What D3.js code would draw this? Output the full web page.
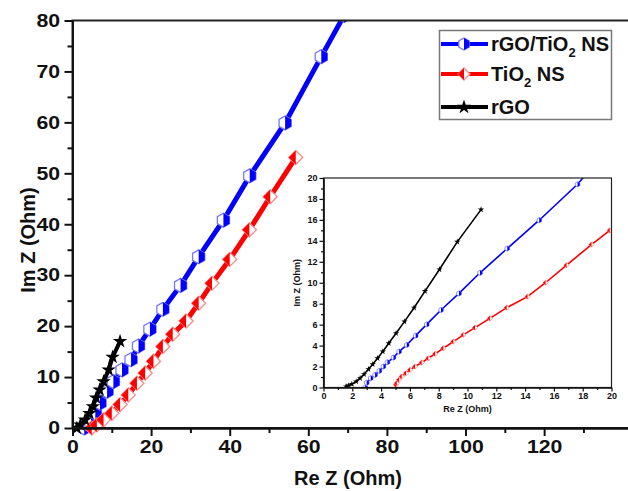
<!DOCTYPE html>
<html>
<head>
<meta charset="utf-8">
<script src="https://cdn.jsdelivr.net/npm/d3@7"></script>
<style>
body { margin: 0; background: #fff; }
text { font-family: "Liberation Sans", Arial, sans-serif; font-weight: bold; fill: #111; }
</style>
</head>
<body>
<svg></svg>
<script>
// main plot data (Re Z, Im Z in Ohm)
var blueRe = [3.0, 4.4, 4.7, 5.8, 7.0, 8.8, 10.4, 12.6, 14.9, 16.8, 19.7, 23.0, 27.5, 32.1, 38.4, 45.1, 54.1, 63.3, 69.1];
var blueIm = [0, 0.5, 1.0, 2.9, 4.9, 7.2, 9.1, 11.4, 13.4, 16.1, 19.4, 23.3, 28.0, 33.6, 40.8, 49.5, 59.9, 72.9, 81];
var redRe = [4.9, 6.2, 7.9, 10.0, 12.1, 14.2, 16.4, 18.5, 20.6, 23.0, 25.5, 28.9, 32.1, 35.5, 40.0, 45.0, 50.3, 56.8];
var redIm = [0, 0.6, 1.6, 2.9, 4.6, 6.5, 8.8, 10.8, 13.1, 16.0, 18.4, 21.0, 24.5, 28.4, 33.1, 38.9, 45.4, 53.1];
var blackRe = [1.1, 2.0, 3.2, 4.3, 5.2, 6.0, 6.9, 7.9, 9.2, 10.2, 12.1];
var blackIm = [0, 0.6, 1.6, 2.9, 4.2, 5.9, 7.5, 9.1, 11.4, 13.9, 17.0];

// inset data
var inBlueRe = [2.9, 3.0, 3.28, 3.58, 3.88, 4.16, 4.44, 4.86, 5.25, 5.78, 6.40, 7.17, 8.16, 9.41, 10.87, 12.76, 14.98, 17.64, 18.2];
var inBlueIm = [0, 0.45, 0.89, 1.2, 1.59, 2.0, 2.41, 2.86, 3.43, 4.06, 4.95, 6.03, 7.40, 8.98, 10.95, 13.27, 15.97, 19.4, 20.3];
var inRedRe = [5.04, 5.09, 5.25, 5.43, 5.73, 6.01, 6.36, 6.82, 7.28, 7.75, 8.32, 9.02, 9.71, 10.52, 11.56, 12.72, 14.17, 15.42, 16.88, 18.61, 19.88, 20.3];
var inRedIm = [0.25, 0.41, 0.73, 1.05, 1.37, 1.68, 2.0, 2.38, 2.79, 3.21, 3.75, 4.38, 5.02, 5.71, 6.6, 7.62, 8.67, 10.0, 11.68, 13.65, 15.0, 15.3];
var inBlackRe = [1.57, 1.73, 1.97, 2.27, 2.54, 2.82, 3.12, 3.42, 3.75, 4.12, 4.53, 5.04, 5.62, 6.29, 7.05, 8.05, 9.29, 10.94];
var inBlackIm = [0.1, 0.19, 0.32, 0.57, 0.89, 1.27, 1.75, 2.22, 2.79, 3.43, 4.22, 5.17, 6.29, 7.62, 9.2, 11.27, 13.9, 16.98];

var mainXTicks = [0, 20, 40, 60, 80, 100, 120];
var mainYTicks = [0, 10, 20, 30, 40, 50, 60, 70, 80];
var insetTicks = [0, 2, 4, 6, 8, 10, 12, 14, 16, 18, 20];
var legendNames = ["rGO/TiO2 NS", "TiO2 NS", "rGO"];

var svgWidth = 628;
var svgHeight = 491;
var svg = d3.select("svg").attr("width", svgWidth).attr("height", svgHeight);

var x = d3.scaleLinear().domain([0, 142]).range([72.5, 630.6]);
var y = d3.scaleLinear().domain([0, 80]).range([428, 20.5]);
var ix = d3.scaleLinear().domain([0, 20]).range([323.5, 611.5]);
var iy = d3.scaleLinear().domain([0, 20]).range([387.5, 178]);

var colors = { blue: "#0000ff", red: "#ff0000", black: "#000000" };
var light = { blue: "#7777ff", red: "#ff8888", black: "#000000" };

// half filled markers
function marker(g, kind, r) {
  var c = colors[kind], lc = light[kind];
  if (kind == "blue") {
    var h = r * Math.cos(Math.PI / 6);
    g.append("path").attr("d", "M0," + (-r) + "L" + h + "," + (-r / 2) + "L" + h + "," + (r / 2) + "L0," + r + "L" + (-h) + "," + (r / 2) + "L" + (-h) + "," + (-r / 2) + "Z")
      .attr("fill", "#fff").attr("stroke", lc).attr("stroke-width", r > 4 ? 1.3 : 0.8);
    g.append("path").attr("d", "M0," + (-r) + "L" + h + "," + (-r / 2) + "L" + h + "," + (r / 2) + "L0," + r + "Z").attr("fill", c);
  } else if (kind == "red") {
    g.append("path").attr("d", "M0," + (-r) + "L" + r + ",0L0," + r + "L" + (-r) + ",0Z")
      .attr("fill", "#fff").attr("stroke", lc).attr("stroke-width", r > 4 ? 1.3 : 0.8);
    g.append("path").attr("d", "M0," + (-r) + "L" + (-r) + ",0L0," + r + "Z").attr("fill", c);
  } else {
    g.append("path").attr("d", d3.symbol(d3.symbolStar, r * r * 2.6)()).attr("fill", c);
  }
}

function drawSeries(layer, re, im, sx, sy, kind, lw, r) {
  var pts = d3.zip(re, im);
  var line = d3.line().x(function(d) { return sx(d[0]); }).y(function(d) { return sy(d[1]); });
  layer.append("path").datum(pts).attr("d", line)
    .attr("fill", "none").attr("stroke", colors[kind]).attr("stroke-width", lw);
  layer.selectAll(null).data(pts).enter().append("g")
    .attr("transform", function(d) { return "translate(" + sx(d[0]) + "," + sy(d[1]) + ")"; })
    .each(function() { marker(d3.select(this), kind, r); });
}

function styleAxis(g, w) {
  g.select(".domain").attr("stroke", "#111").attr("stroke-width", w);
  g.selectAll(".tick line").attr("stroke", "#111").attr("stroke-width", w);
}

// main plot
svg.append("clipPath").attr("id", "mainClip").append("rect")
  .attr("x", 72).attr("y", 20.5).attr("width", 560).attr("height", 420);

var main = svg.append("g").attr("clip-path", "url(#mainClip)");
drawSeries(main, blueRe, blueIm, x, y, "blue", 5, 7);
drawSeries(main, redRe, redIm, x, y, "red", 5, 7);
drawSeries(main, blackRe, blackIm, x, y, "black", 4, 5);

svg.append("rect").attr("x", x(0)).attr("y", y(80)).attr("width", x(142) - x(0)).attr("height", y(0) - y(80))
  .attr("fill", "none").attr("stroke", "#222").attr("stroke-width", 2);

var gx = svg.append("g").attr("transform", "translate(0," + y(0) + ")")
  .call(d3.axisBottom(x).tickValues(mainXTicks).tickSize(8).tickPadding(3).tickSizeOuter(0));
gx.selectAll("text").attr("font-size", 18).attr("dy", "0.8em").attr("transform", "scale(1.18,1)");
styleAxis(gx, 2);
var gxm = svg.append("g").attr("transform", "translate(0," + y(0) + ")")
  .call(d3.axisBottom(x).tickValues(d3.range(10, 140, 20)).tickSize(5).tickFormat("").tickSizeOuter(0));
styleAxis(gxm, 2);

var gy = svg.append("g").attr("transform", "translate(" + x(0) + ",0)")
  .call(d3.axisLeft(y).tickValues(mainYTicks).tickSize(8).tickPadding(2.5).tickSizeOuter(0));
gy.selectAll("text").attr("font-size", 18).attr("transform", "scale(1.18,1)");
styleAxis(gy, 2);
var gym = svg.append("g").attr("transform", "translate(" + x(0) + ",0)")
  .call(d3.axisLeft(y).tickValues(d3.range(5, 80, 10)).tickSize(5).tickFormat("").tickSizeOuter(0));
styleAxis(gym, 2);

svg.append("text").attr("x", 348).attr("y", 485).attr("text-anchor", "middle")
  .attr("font-size", 20).text("Re Z (Ohm)");
svg.append("text").attr("transform", "translate(35,240) rotate(-90)").attr("text-anchor", "middle")
  .attr("font-size", 20).text("Im Z (Ohm)");

// legend
var leg = svg.append("g");
leg.append("rect").attr("x", 439.5).attr("y", 30.5).attr("width", 172).attr("height", 89)
  .attr("fill", "#fff").attr("stroke", "#777").attr("stroke-width", 1.5);
var legKinds = ["blue", "red", "black"];
var legY = [44, 74, 107];
legendNames.forEach(function(name, i) {
  var k = legKinds[i];
  leg.append("line").attr("x1", 441).attr("x2", 488).attr("y1", legY[i]).attr("y2", legY[i])
    .attr("stroke", colors[k]).attr("stroke-width", 4);
  marker(leg.append("g").attr("transform", "translate(464," + legY[i] + ")"), k, k == "black" ? 5 : 6);
  var t = leg.append("text").attr("x", 491).attr("y", legY[i] + 7).attr("font-size", 20);
  var parts = name.split("2");
  if (parts.length > 1) {
    t.append("tspan").text(parts[0]);
    t.append("tspan").attr("font-size", 13).attr("dy", 6).text("2");
    t.append("tspan").attr("dy", -6).text(parts[1]);
  } else {
    t.text(name);
  }
});

// inset
var inset = svg.append("g");
inset.append("rect").attr("x", ix(0)).attr("y", iy(20)).attr("width", ix(20) - ix(0)).attr("height", iy(0) - iy(20))
  .attr("fill", "#fff");
inset.append("clipPath").attr("id", "insetClip").append("rect")
  .attr("x", ix(0)).attr("y", iy(20)).attr("width", ix(20) - ix(0)).attr("height", iy(0) - iy(20));
var inData = inset.append("g").attr("clip-path", "url(#insetClip)");
drawSeries(inData, inBlueRe, inBlueIm, ix, iy, "blue", 1.6, 2.6);
drawSeries(inData, inRedRe, inRedIm, ix, iy, "red", 1.6, 2.6);
drawSeries(inData, inBlackRe, inBlackIm, ix, iy, "black", 1.6, 2.2);
inset.append("rect").attr("x", ix(0)).attr("y", iy(20)).attr("width", ix(20) - ix(0)).attr("height", iy(0) - iy(20))
  .attr("fill", "none").attr("stroke", "#222").attr("stroke-width", 1.2);

var ixg = inset.append("g").attr("transform", "translate(0," + iy(0) + ")")
  .call(d3.axisBottom(ix).tickValues(insetTicks).tickSize(4).tickPadding(1.5).tickSizeOuter(0));
ixg.selectAll("text").attr("font-size", 9);
styleAxis(ixg, 1.2);
var ixm = inset.append("g").attr("transform", "translate(0," + iy(0) + ")")
  .call(d3.axisBottom(ix).tickValues(d3.range(1, 20, 2)).tickSize(2.5).tickFormat("").tickSizeOuter(0));
styleAxis(ixm, 1.2);
var iyg = inset.append("g").attr("transform", "translate(" + ix(0) + ",0)")
  .call(d3.axisLeft(iy).tickValues(insetTicks).tickSize(4).tickPadding(2).tickSizeOuter(0));
iyg.selectAll("text").attr("font-size", 9);
styleAxis(iyg, 1.2);
var iym = inset.append("g").attr("transform", "translate(" + ix(0) + ",0)")
  .call(d3.axisLeft(iy).tickValues(d3.range(1, 20, 2)).tickSize(2.5).tickFormat("").tickSizeOuter(0));
styleAxis(iym, 1.2);

inset.append("text").attr("x", ix(10)).attr("y", 412).attr("text-anchor", "middle")
  .attr("font-size", 9).text("Re Z (Ohm)");
inset.append("text").attr("transform", "translate(300," + iy(10) + ") rotate(-90)").attr("text-anchor", "middle")
  .attr("font-size", 9).text("Im Z (Ohm)");
</script>
</body>
</html>
